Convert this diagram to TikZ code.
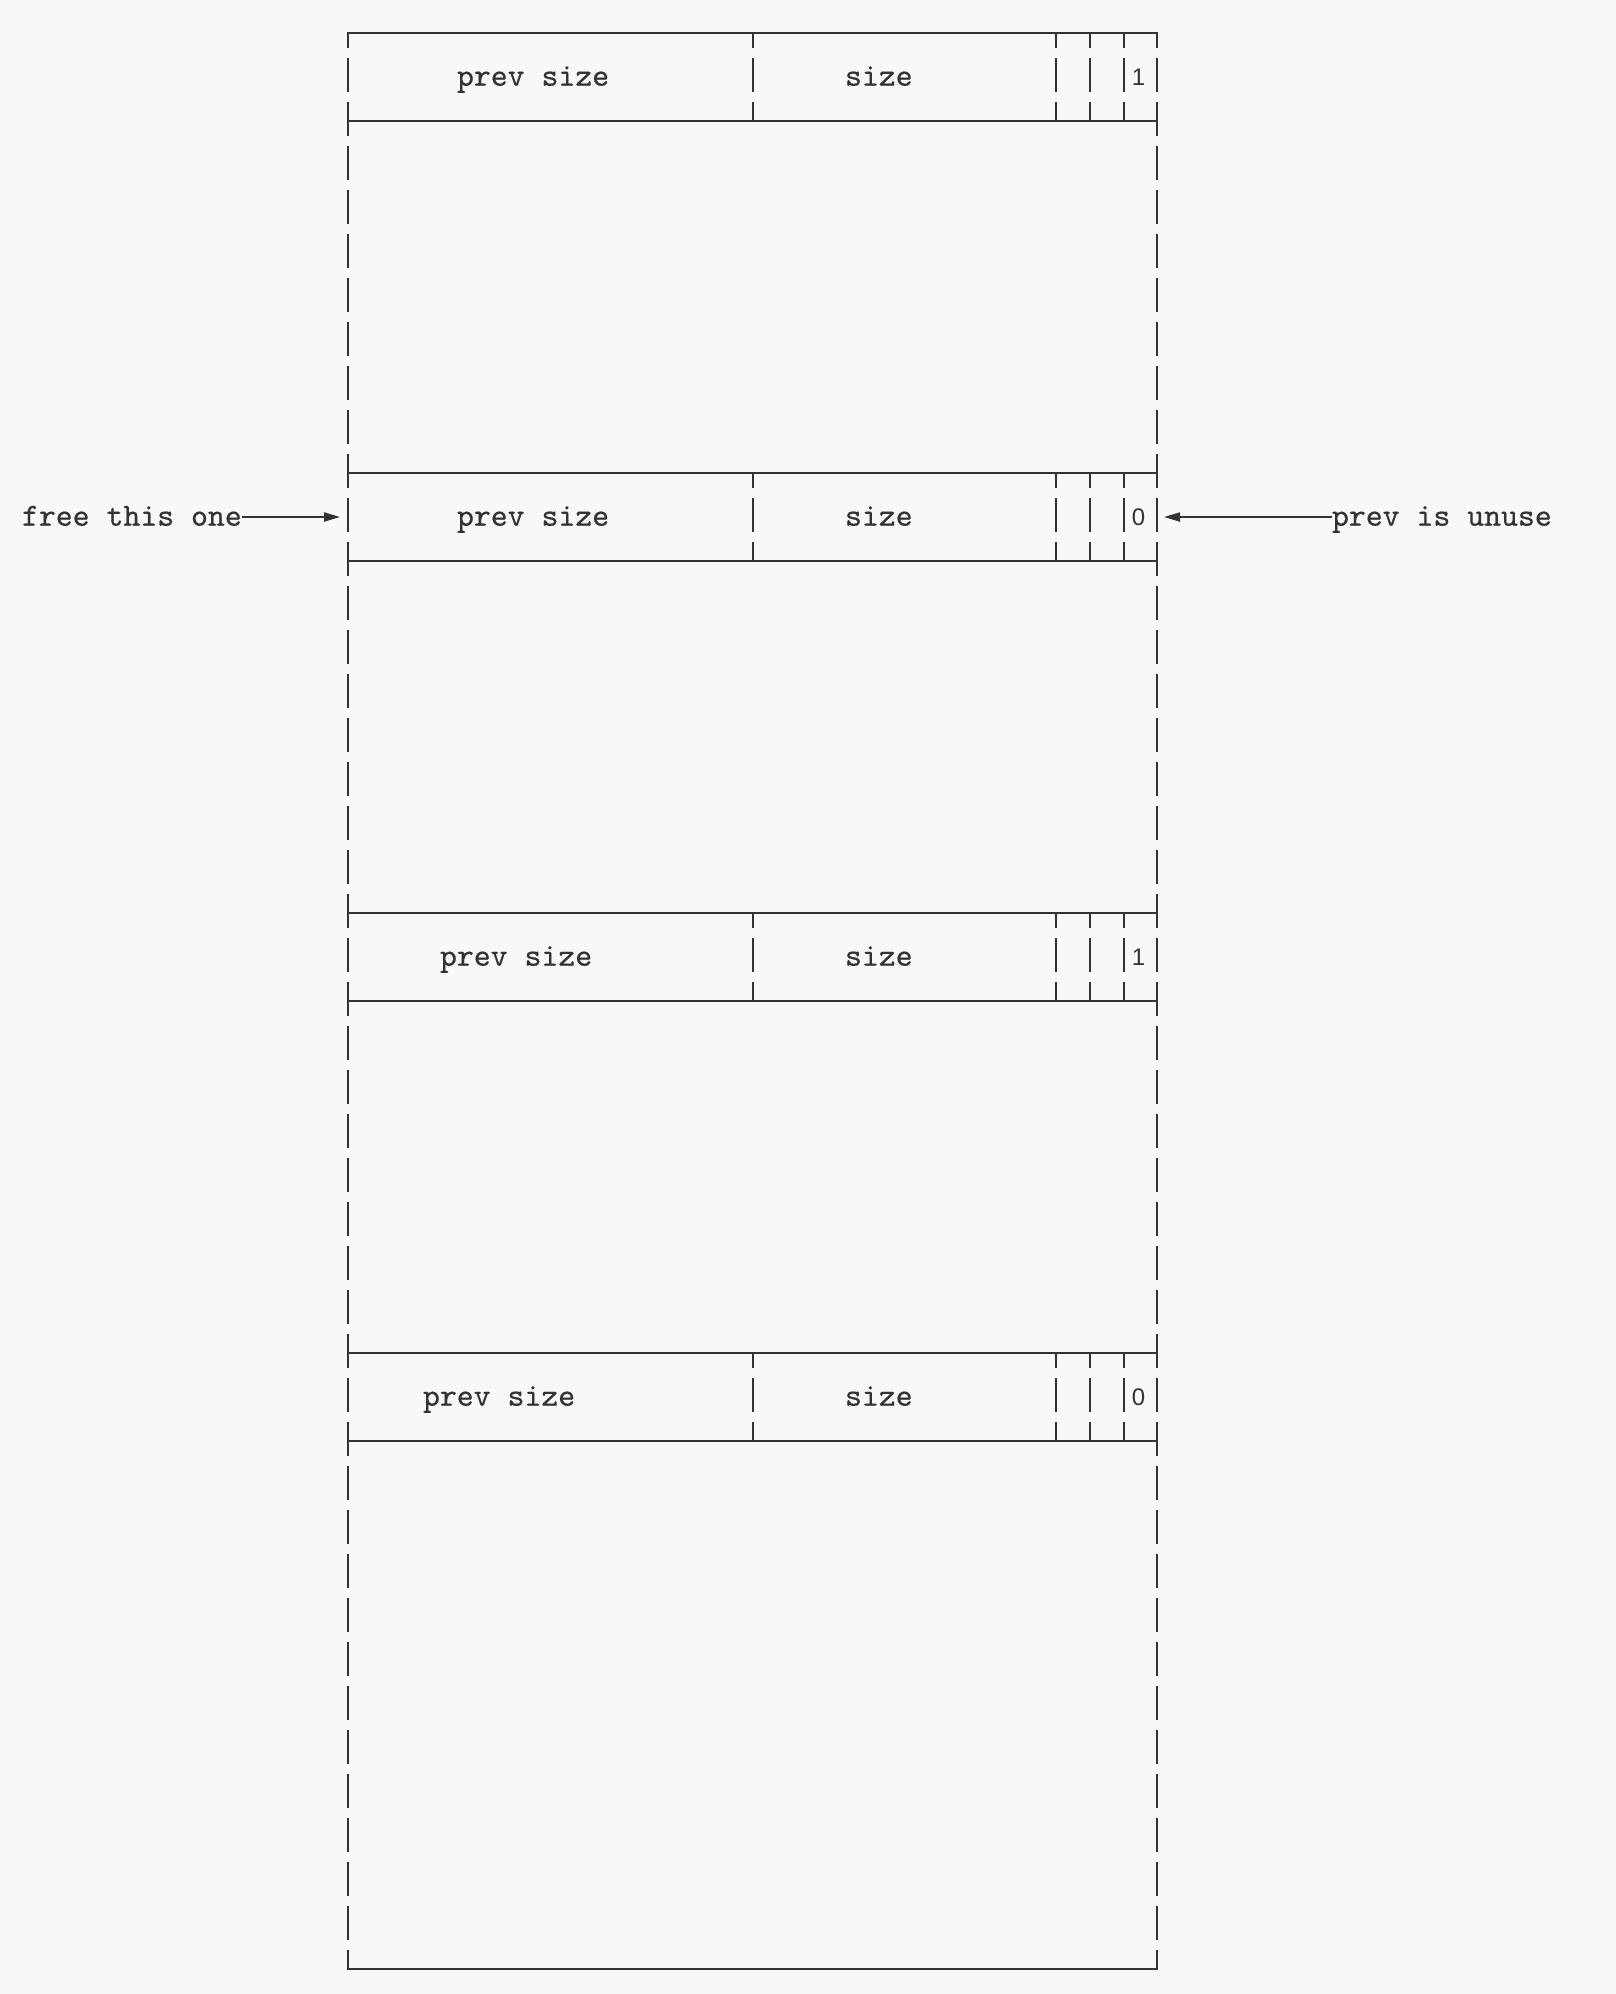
\documentclass[tikz,border=0pt]{standalone}
\usepackage{fontspec}
\newfontfamily\digitfont{Liberation Sans}
\newfontfamily\chunkmono[FakeBold=0.5]{lmmono10-regular.otf}
\usetikzlibrary{arrows.meta}
\definecolor{bg}{RGB}{248,248,248}
\definecolor{ink}{RGB}{51,51,51}
\begin{document}
\begin{tikzpicture}[x=0.5pt,y=-0.5pt,
  hline/.style={ink, line width=1pt, line cap=rect},
  vline/.style={ink, line width=1pt, dash pattern=on 17pt off 5pt, dash phase=9.5pt},
  txt/.style={ink, font=\fontsize{16.1}{19}\selectfont\chunkmono, inner sep=0pt, outer sep=0pt, anchor=base west},
  bit/.style={ink, font=\fontsize{12}{14}\selectfont\digitfont, inner sep=0pt, outer sep=0pt, anchor=base},
  arr/.style={ink, line width=1pt, -{Triangle[length=8pt,width=4.5pt]}}]
\fill[bg] (0,0) rectangle (1616,1994);
\useasboundingbox (0,0) rectangle (1616,1994);
% outer borders
\draw[vline] (348,33) -- (348,1969);
\draw[vline] (1157,33) -- (1157,1969);
% chunk headers
\foreach \y in {33,473,913,1353} {
  \draw[hline] (348,\y) -- (1157,\y);
  \draw[hline] (348,\y+88) -- (1157,\y+88);
  \foreach \x in {753,1056,1090,1124} \draw[vline] (\x,\y) -- (\x,\y+88);
}
\draw[hline] (348,1969) -- (1157,1969);
% header texts
\node[txt] (ps1) at (457,85.7) {prev size};
\node[txt] (s1) at (845,85.7) {size};
\node[bit] (b1) at (1138.5,85.5) {1};
\node[txt] (ps2) at (457,525.7) {prev size};
\node[txt] (s2) at (845,525.7) {size};
\node[bit] (b2) at (1138.5,525.5) {0};
\node[txt] (ps3) at (440,965.7) {prev size};
\node[txt] (s3) at (845,965.7) {size};
\node[bit] (b3) at (1138.5,965.5) {1};
\node[txt] (ps4) at (423,1405.7) {prev size};
\node[txt] (s4) at (845,1405.7) {size};
\node[bit] (b4) at (1138.5,1405.5) {0};
% annotations
\node[txt] (free) at (22,525.7) {free this one};
\coordinate (tipL) at (340,517);
\draw[arr] (free.east |- tipL) -- (tipL);
\node[txt] (unuse) at (1332,525.7) {prev is unuse};
\coordinate (tipR) at (1164,517);
\draw[arr] (unuse.west |- tipR) -- (tipR);
\end{tikzpicture}
\end{document}
